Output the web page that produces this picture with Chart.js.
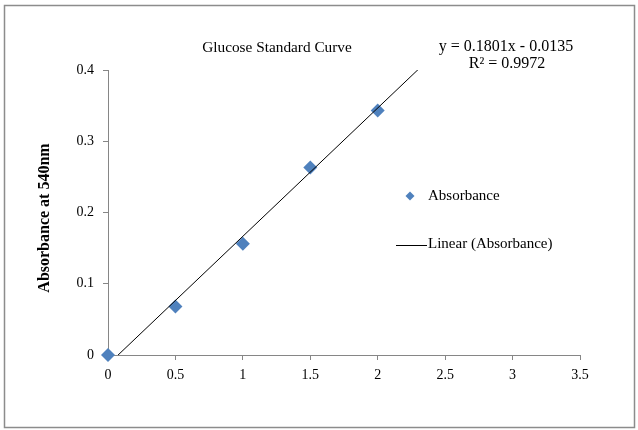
<!DOCTYPE html>
<html>
<head>
<meta charset="utf-8">
<script src="https://cdn.jsdelivr.net/npm/chart.js@4/dist/chart.umd.min.js"></script>
<style>
html,body{margin:0;padding:0;background:#fff;}
#wrap{position:relative;width:638px;height:430px;}
canvas{display:block;}
</style>
</head>
<body>
<div id="wrap"><canvas id="c" width="638" height="430"></canvas></div>
<script>
// ---- data ----
const concentrations = [0, 0.5, 1, 1.5, 2];
const absorbance = [0, 0.068, 0.156, 0.263, 0.343];
const trendSlope = 0.1801;
const trendIntercept = -0.0135;
const trendXRange = [0, 2.31];
const xTicks = [0, 0.5, 1, 1.5, 2, 2.5, 3, 3.5];
const yTicks = [0, 0.1, 0.2, 0.3, 0.4];
const chartTitle = 'Glucose Standard Curve';
const yAxisTitle = 'Absorbance at 540nm';
const equationText = 'y = 0.1801x - 0.0135';
const r2Text = 'R\u00B2 = 0.9972';
const seriesName = 'Absorbance';
const trendName = 'Linear (Absorbance)';

const SERIF = '"Liberation Serif", "Times New Roman", serif';
const AXIS = '#868686';
const BLUE = '#4F81BD';

const points = concentrations.map((x, i) => ({x: x, y: absorbance[i]}));
const trendPts = trendXRange.map(x => ({x: x, y: trendSlope * x + trendIntercept}));

const decor = {
  id: 'decor',
  afterDraw(chart) {
    const ctx = chart.ctx;
    ctx.save();
    // outer border
    ctx.strokeStyle = '#8c8c8c';
    ctx.lineWidth = 1.5;
    ctx.strokeRect(4.5, 5.5, 630, 422);
    ctx.fillStyle = '#000';
    ctx.textBaseline = 'middle';
    ctx.textAlign = 'center';
    ctx.font = '15.3px ' + SERIF;
    ctx.fillText(chartTitle, 277, 48);
    ctx.font = '16px ' + SERIF;
    ctx.fillText(equationText, 506, 47);
    ctx.fillText(r2Text, 507, 64);
    // y axis title
    ctx.save();
    ctx.translate(45, 218);
    ctx.rotate(-Math.PI / 2);
    ctx.font = 'bold 16px ' + SERIF;
    ctx.fillText(yAxisTitle, 0, 0);
    ctx.restore();
    // legend
    ctx.textAlign = 'left';
    ctx.font = '15px ' + SERIF;
    ctx.fillStyle = BLUE;
    ctx.beginPath();
    const lx = 410, ly = 196, r = 4.5;
    ctx.moveTo(lx, ly - r); ctx.lineTo(lx + r, ly); ctx.lineTo(lx, ly + r); ctx.lineTo(lx - r, ly); ctx.closePath();
    ctx.fill();
    ctx.fillStyle = '#000';
    ctx.fillText(seriesName, 428, 196);
    ctx.strokeStyle = '#000';
    ctx.lineWidth = 1;
    ctx.beginPath();
    ctx.moveTo(396, 245.5); ctx.lineTo(427, 245.5);
    ctx.stroke();
    ctx.fillText(trendName, 428, 244);
    ctx.restore();
  }
};

new Chart(document.getElementById('c'), {
  type: 'scatter',
  data: {
    datasets: [
      {
        label: trendName,
        type: 'line',
        data: trendPts,
        borderColor: '#000',
        borderWidth: 1,
        pointRadius: 0,
        fill: false,
        order: 0
      },
      {
        label: seriesName,
        data: points,
        pointStyle: 'rectRot',
        pointRadius: 7,
        pointHoverRadius: 7,
        backgroundColor: BLUE,
        borderColor: BLUE,
        borderWidth: 0,
        clip: false,
        order: 1
      }
    ]
  },
  plugins: [decor],
  options: {
    responsive: false,
    animation: false,
    devicePixelRatio: 1,
    layout: {padding: {left: 0, top: 70, right: 58, bottom: 0}},
    plugins: {legend: {display: false}, title: {display: false}, tooltip: {enabled: false}},
    scales: {
      x: {
        type: 'linear',
        min: 0, max: 3.5,
        afterBuildTicks: s => { s.ticks = xTicks.map(v => ({value: v})); },
        afterFit: s => { s.height = 75; },
        grid: {drawOnChartArea: false, drawTicks: true, tickLength: 5, color: AXIS},
        border: {color: AXIS, width: 1},
        ticks: {color: '#000', font: {family: SERIF, size: 14}, padding: 7, maxRotation: 0,
                callback: v => String(v)}
      },
      y: {
        type: 'linear',
        min: 0, max: 0.4,
        afterBuildTicks: s => { s.ticks = yTicks.map(v => ({value: v})); },
        afterFit: s => { s.width = 108; },
        grid: {drawOnChartArea: false, drawTicks: true, tickLength: 5, color: AXIS},
        border: {color: AXIS, width: 1},
        ticks: {color: '#000', font: {family: SERIF, size: 14}, padding: 9,
                callback: v => String(v)}
      }
    }
  }
});
</script>
</body>
</html>
